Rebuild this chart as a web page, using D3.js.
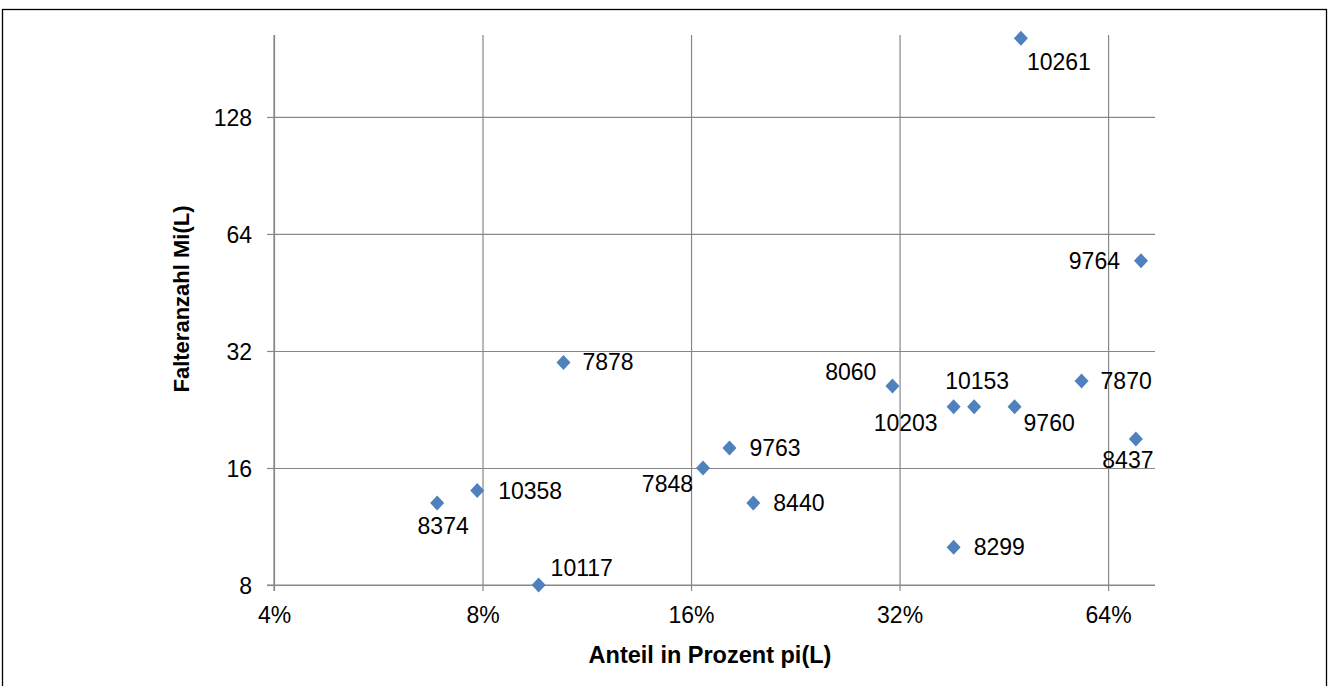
<!DOCTYPE html>
<html>
<head>
<meta charset="utf-8">
<script src="https://cdn.jsdelivr.net/npm/d3@7/dist/d3.min.js"></script>
<style>
  html, body { margin: 0; padding: 0; background: #fff; }
  svg text { font-family: "Liberation Sans", Arial, sans-serif; fill: #000; }
</style>
</head>
<body>
<svg id="chart" width="1333" height="686"></svg>
<script>
// Line IDs, share in percent pi(L) and fold count Mi(L)
const ids     = ["10261", "9764", "7878", "10358", "8374", "10117", "7848", "9763",
                 "8440", "8060", "10203", "10153", "9760", "7870", "8437", "8299"];
const anteil  = [47.9, 71.4, 10.47, 7.86, 6.88, 9.64, 16.65, 18.18,
                 19.68, 31.25, 38.3, 41.0, 46.9, 58.6, 70.2, 38.3];
const falten  = [204, 54.6, 29.9, 14, 13, 8, 16, 18,
                 13, 26, 23, 23, 23, 26.8, 19, 10];

const xTicks = [4, 8, 16, 32, 64];
const yTicks = [8, 16, 32, 64, 128];
const xTitle = "Anteil in Prozent pi(L)";
const yTitle = "Falteranzahl Mi(L)";

// where each point label sits relative to its marker
const labelPlacement = {
  "10261": [6, 24, "start"],
  "9764":  [-21, 0, "end"],
  "7878":  [19, 0, "start"],
  "10358": [21, 0, "start"],
  "8374":  [6, 23, "middle"],
  "10117": [12, -17, "start"],
  "7848":  [-10, 16, "end"],
  "9763":  [20, 0, "start"],
  "8440":  [20, 0, "start"],
  "8060":  [-16, -14, "end"],
  "10203": [-16, 16, "end"],
  "10153": [3, -26, "middle"],
  "9760":  [9, 16, "start"],
  "7870":  [19, 0, "start"],
  "8437":  [-8, 21, "middle"],
  "8299":  [20, 0, "start"]
};

const points = ids.map((id, i) => ({ id, x: anteil[i], y: falten[i] }));

const svg = d3.select("#chart");
const plot = { left: 274, right: 1155, top: 35, bottom: 585 };
const gridColor = "#878787";
const labelSize = 23;

// outer chart frame
svg.append("rect")
  .attr("x", 2.5).attr("y", 9.5)
  .attr("width", 1324).attr("height", 700)
  .attr("fill", "none").attr("stroke", "#000").attr("stroke-width", 1.3);

const x = d3.scaleLog().base(2).domain([4, 74.8]).range([plot.left, plot.right]);
const y = d3.scaleLog().base(2).domain([8, 208]).range([plot.bottom, plot.top]);

// horizontal gridlines + left axis
const yAxis = d3.axisLeft(y)
  .tickValues(yTicks)
  .tickFormat(d3.format("d"))
  .tickSize(-(plot.right - plot.left))
  .tickPadding(15);
const gy = svg.append("g")
  .attr("transform", `translate(${plot.left},0)`)
  .call(yAxis);
gy.select(".domain").remove();
gy.selectAll(".tick line").attr("stroke", gridColor).attr("stroke-width", 1.2);
gy.selectAll(".tick").append("line")
  .attr("x1", -7).attr("x2", 0)
  .attr("stroke", gridColor).attr("stroke-width", 1.2);
gy.selectAll(".tick text")
  .attr("font-size", labelSize).attr("x", -22).attr("dy", "0.35em")
  .style("font-family", '"Liberation Sans", Arial, sans-serif');

// vertical gridlines + bottom axis
const xAxis = d3.axisBottom(x)
  .tickValues(xTicks)
  .tickFormat(d => d + "%")
  .tickSize(-(plot.bottom - plot.top))
  .tickPadding(18);
const gx = svg.append("g")
  .attr("transform", `translate(0,${plot.bottom})`)
  .call(xAxis);
gx.select(".domain").remove();
gx.selectAll(".tick line").attr("stroke", gridColor).attr("stroke-width", 1.2);
gx.selectAll(".tick").append("line")
  .attr("y1", 0).attr("y2", 6)
  .attr("stroke", gridColor).attr("stroke-width", 1.2);
gx.selectAll(".tick text")
  .attr("font-size", labelSize).attr("y", 38).attr("dy", "0")
  .style("font-family", '"Liberation Sans", Arial, sans-serif');

// axis lines
svg.append("line")
  .attr("x1", plot.left).attr("x2", plot.left)
  .attr("y1", plot.top).attr("y2", plot.bottom + 6)
  .attr("stroke", gridColor).attr("stroke-width", 1.2);
svg.append("line")
  .attr("x1", plot.left - 7).attr("x2", plot.right)
  .attr("y1", plot.bottom).attr("y2", plot.bottom)
  .attr("stroke", gridColor).attr("stroke-width", 1.2);

// axis titles
svg.append("text")
  .attr("x", 710).attr("y", 663)
  .attr("text-anchor", "middle")
  .attr("font-size", 23.5).attr("font-weight", "bold")
  .text(xTitle);
svg.append("text")
  .attr("transform", "translate(189,299) rotate(-90)")
  .attr("text-anchor", "middle")
  .attr("font-size", 22).attr("font-weight", "bold")
  .text(yTitle);

// diamond markers
const diamond = "M0,-7.5L7,0L0,7.5L-7,0Z";
svg.append("g").selectAll("path")
  .data(points)
  .join("path")
  .attr("d", diamond)
  .attr("transform", d => `translate(${x(d.x)},${y(d.y)})`)
  .attr("fill", "#4F81BD");

// point labels
svg.append("g").selectAll("text")
  .data(points)
  .join("text")
  .attr("x", d => x(d.x) + labelPlacement[d.id][0])
  .attr("y", d => y(d.y) + labelPlacement[d.id][1])
  .attr("dy", "0.35em")
  .attr("text-anchor", d => labelPlacement[d.id][2])
  .attr("font-size", labelSize)
  .text(d => d.id);
</script>
</body>
</html>
